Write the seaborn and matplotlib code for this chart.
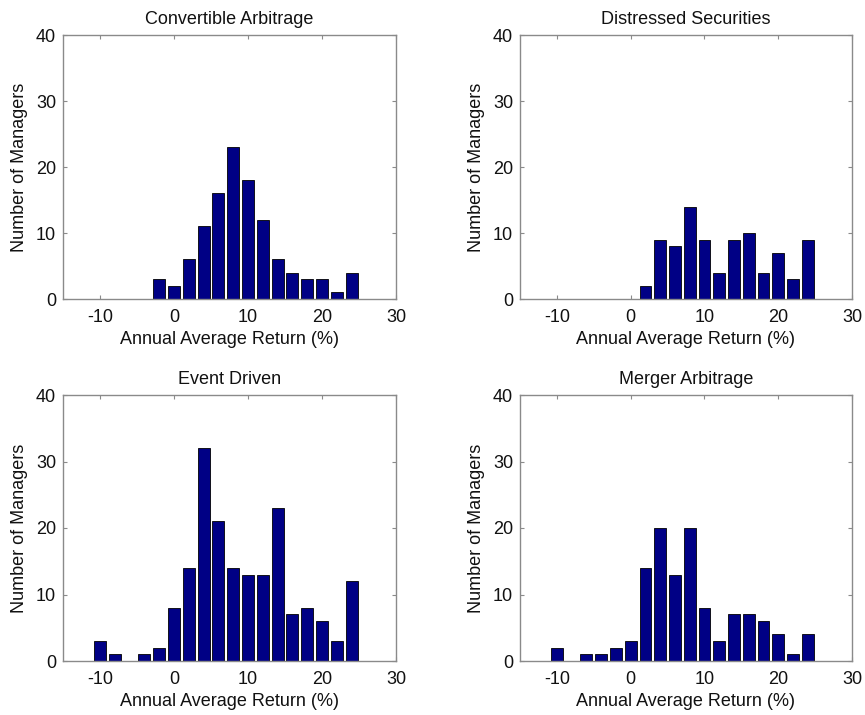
import numpy as np
import pandas as pd
import matplotlib
matplotlib.use("Agg")
import matplotlib.pyplot as plt
import seaborn as sns

# Bin centres (annual average return, %)
centers = [-10, -8, -6, -4, -2, 0, 2, 4, 6, 8, 10, 12, 14, 16, 18, 20, 22, 24]

titles = ["Convertible Arbitrage", "Distressed Securities", "Event Driven", "Merger Arbitrage"]

convertible_arbitrage = [0, 0, 0, 0, 3, 2, 6, 11, 16, 23, 18, 12, 6, 4, 3, 3, 1, 4]
distressed_securities = [0, 0, 0, 0, 0, 0, 2, 9, 8, 14, 9, 4, 9, 10, 4, 7, 3, 9]
event_driven = [3, 1, 0, 1, 2, 8, 14, 32, 21, 14, 13, 13, 23, 7, 8, 6, 3, 12]
merger_arbitrage = [2, 0, 1, 1, 2, 3, 14, 20, 13, 20, 8, 3, 7, 7, 6, 4, 1, 4]

series = [convertible_arbitrage, distressed_securities, event_driven, merger_arbitrage]

xticks = [-10, 0, 10, 20, 30]
yticks = [0, 10, 20, 30, 40]

sns.set_theme(style="white")
plt.rcParams['font.family'] = ['Liberation Sans', 'DejaVu Sans']

fig = plt.figure(figsize=(8.65, 7.15), dpi=100)
W, H = 865.0, 715.0
boxes = [
    (63, 35, 396, 299),
    (520, 35, 852, 299),
    (63, 395, 396, 661),
    (520, 395, 852, 661),
]

bar_color = "#000085"
spine_color = "#8a8a8a"

for (l, t, r, b), title, counts in zip(boxes, titles, series):
    ax = fig.add_axes([l / W, 1 - b / H, (r - l) / W, (b - t) / H])
    df = pd.DataFrame({"ret": centers, "n": counts})
    df = df[df["n"] > 0]
    sns.barplot(data=df, x="ret", y="n", native_scale=True, width=0.8,
                color=bar_color, saturation=1, edgecolor="black",
                linewidth=0.6, ax=ax)
    ax.set_xlim(-15, 30)
    ax.set_ylim(0, 40)
    ax.set_xticks(xticks)
    ax.set_yticks(yticks)
    ax.set_xticklabels([str(v) for v in xticks])
    ax.set_yticklabels([str(v) for v in yticks])
    ax.tick_params(axis="both", direction="in", length=3, width=0.8,
                   color=spine_color, labelsize=13, labelcolor="#111111",
                   top=True, right=True, bottom=True, left=True)
    ax.tick_params(axis="x", pad=7)
    ax.tick_params(axis="y", pad=5)
    for s in ax.spines.values():
        s.set_visible(True)
        s.set_color(spine_color)
        s.set_linewidth(1.0)
    ax.set_title(title, fontsize=13, color="#111111", pad=8)
    ax.set_xlabel("Annual Average Return (%)", fontsize=13, color="#111111", labelpad=4)
    ax.set_ylabel("Number of Managers", fontsize=13, color="#111111", labelpad=6)
    ax.grid(False)

fig.savefig("out.png", dpi=100, facecolor="white")
